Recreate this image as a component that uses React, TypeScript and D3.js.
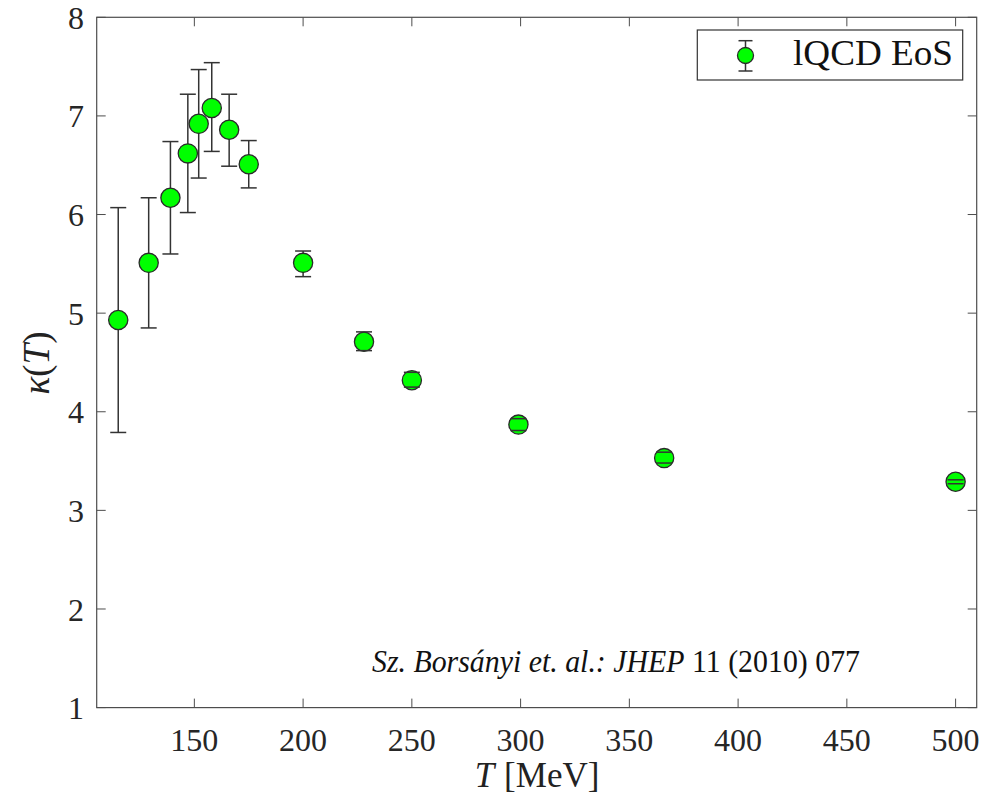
import React from "react";
import * as d3 from "d3";

const temps = [115, 129, 139, 147, 152, 158, 166, 175, 200, 228, 250, 299, 366, 500];
const kappa = [4.93, 5.51, 6.17, 6.62, 6.92, 7.08, 6.86, 6.51, 5.51, 4.71, 4.32, 3.87, 3.53, 3.29];
const errHigh = [6.07, 6.17, 6.74, 7.22, 7.47, 7.54, 7.22, 6.75, 5.63, 4.81, 4.40, 3.93, 3.59, 3.31];
const errLow = [3.79, 4.85, 5.60, 6.02, 6.37, 6.64, 6.49, 6.27, 5.37, 4.62, 4.25, 3.81, 3.48, 3.27];
const xTicks = [150, 200, 250, 300, 350, 400, 450, 500];
const yTicks = [1, 2, 3, 4, 5, 6, 7, 8];
const legendLabel = "lQCD EoS";

const W = 997;
const H = 796;
const left = 96.7, right = 976.7, top = 17.3, bottom = 707.6;

export default function App() {
  const x = d3.scaleLinear().domain([105.1, 509.7]).range([left, right]);
  const y = d3.scaleLinear().domain([1, 8]).range([bottom, top]);
  const axisColor = "#4d4d4d";
  const serif = "'Liberation Serif', 'Times New Roman', serif";
  const tickLen = 9;
  const pts = temps.map((t, i) => ({ t, k: kappa[i], hi: errHigh[i], lo: errLow[i] }));
  const capW = 8;
  return (
    <svg width={W} height={H} style={{ position: "absolute", left: 0, top: 0, background: "#fff" }}>
      <rect x={0} y={0} width={W} height={H} fill="#fff" />
      {xTicks.map((t) => (
        <g key={"xt" + t}>
          <line x1={x(t)} x2={x(t)} y1={bottom} y2={bottom - tickLen} stroke={axisColor} strokeWidth={1} />
          <line x1={x(t)} x2={x(t)} y1={top} y2={top + tickLen} stroke={axisColor} strokeWidth={1} />
          <text x={x(t)} y={751} textAnchor="middle" fontFamily={serif} fontSize={32} fill="#262626">{t}</text>
        </g>
      ))}
      {yTicks.map((v) => (
        <g key={"yt" + v}>
          <line x1={left} x2={left + tickLen} y1={y(v)} y2={y(v)} stroke={axisColor} strokeWidth={1} />
          <line x1={right} x2={right - tickLen} y1={y(v)} y2={y(v)} stroke={axisColor} strokeWidth={1} />
          <text x={84} y={y(v)} dy="0.36em" textAnchor="end" fontFamily={serif} fontSize={32} fill="#262626">{v}</text>
        </g>
      ))}
      <rect x={left} y={top} width={right - left} height={bottom - top} fill="none" stroke={axisColor} strokeWidth={1.2} />

      {pts.map((p, i) => (
        <line key={"ev" + i} x1={x(p.t)} x2={x(p.t)} y1={y(p.hi)} y2={y(p.lo)} stroke="#333" strokeWidth={1.5} />
      ))}
      {pts.map((p, i) => (
        <circle key={"m" + i} cx={x(p.t)} cy={y(p.k)} r={9.6} fill="#00ff00" stroke="#2a2a2a" strokeWidth={1.3} />
      ))}
      {pts.map((p, i) => (
        <g key={"c" + i}>
          <line x1={x(p.t) - capW} x2={x(p.t) + capW} y1={y(p.hi)} y2={y(p.hi)} stroke="#333" strokeWidth={1.5} />
          <line x1={x(p.t) - capW} x2={x(p.t) + capW} y1={y(p.lo)} y2={y(p.lo)} stroke="#333" strokeWidth={1.5} />
        </g>
      ))}

      <rect x={697.3} y={30} width={265.4} height={50} fill="#fff" stroke="#333" strokeWidth={1.2} />
      <line x1={745.5} x2={745.5} y1={40.7} y2={71} stroke="#333" strokeWidth={1.5} />
      <line x1={738.5} x2={752.5} y1={40.7} y2={40.7} stroke="#333" strokeWidth={1.5} />
      <line x1={738.5} x2={752.5} y1={71} y2={71} stroke="#333" strokeWidth={1.5} />
      <circle cx={745.5} cy={55.5} r={8} fill="#00ff00" stroke="#2a2a2a" strokeWidth={1.3} />
      <text x={793} y={65} fontFamily={serif} fontSize={35} fill="#111" textLength={160} lengthAdjust="spacingAndGlyphs">{legendLabel}</text>

      <text x={372} y={672} fontFamily={serif} fontSize={31} fill="#111" textLength={488} lengthAdjust="spacingAndGlyphs">
        <tspan fontStyle="italic">Sz. Borsányi et. al.: JHEP</tspan>
        <tspan> 11 (2010) 077</tspan>
      </text>

      <text x={537} y={787} textAnchor="middle" fontFamily={serif} fontSize={35} fill="#222">
        <tspan fontStyle="italic">T</tspan>
        <tspan dx={10}>[MeV]</tspan>
      </text>
      <text transform="translate(49,363) rotate(-90)" textAnchor="middle" fontFamily={serif} fontSize={37} fill="#222">
        <tspan fontStyle="italic">κ</tspan>
        <tspan>(</tspan>
        <tspan fontStyle="italic">T</tspan>
        <tspan>)</tspan>
      </text>
    </svg>
  );
}
